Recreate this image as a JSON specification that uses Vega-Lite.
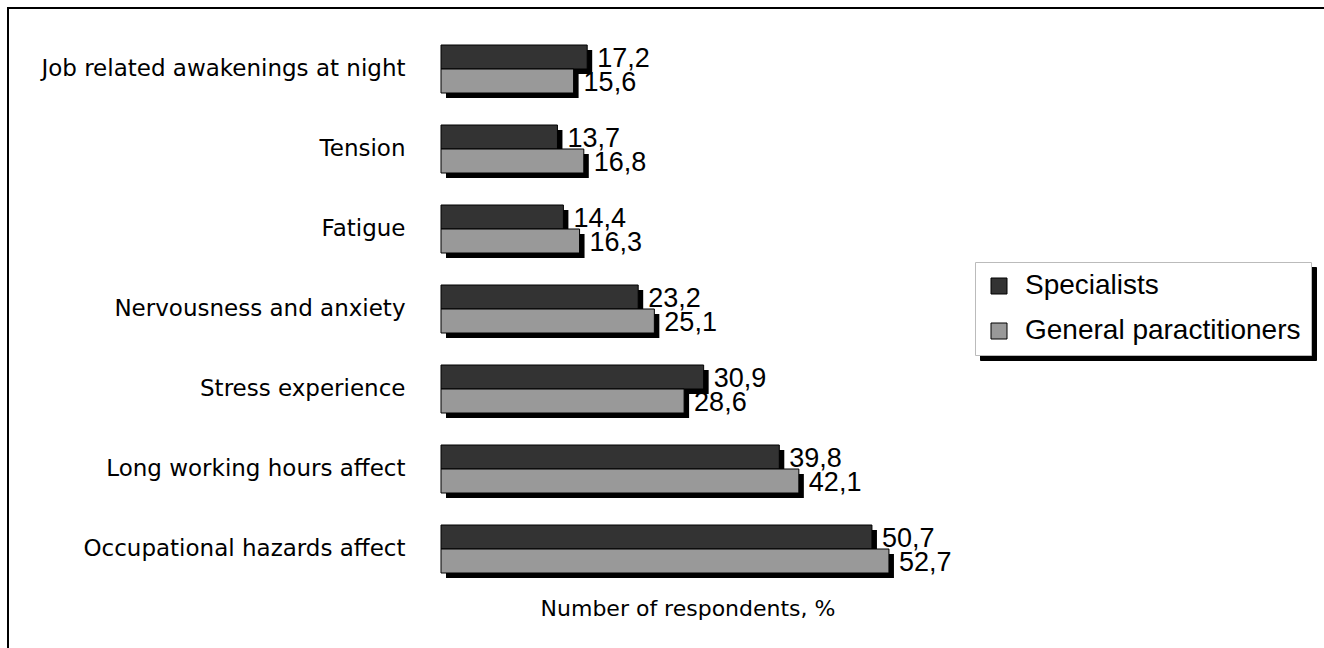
{
  "$schema": "https://vega.github.io/schema/vega-lite/v6.json",
  "autosize": {"type": "none"},
  "padding": {"left": 441, "top": 29, "right": 390, "bottom": 59},
  "width": 493,
  "height": 560,
  "background": "white",
  "config": {
    "view": {"stroke": null},
    "locale": {"number": {"decimal": ",", "thousands": " ", "grouping": [3], "currency": ["", ""]}}
  },
  "data": {
    "values": [
      {"category": "Job related awakenings at night", "series": "Specialists", "value": 17.2},
      {"category": "Job related awakenings at night", "series": "General paractitioners", "value": 15.6},
      {"category": "Tension", "series": "Specialists", "value": 13.7},
      {"category": "Tension", "series": "General paractitioners", "value": 16.8},
      {"category": "Fatigue", "series": "Specialists", "value": 14.4},
      {"category": "Fatigue", "series": "General paractitioners", "value": 16.3},
      {"category": "Nervousness and anxiety", "series": "Specialists", "value": 23.2},
      {"category": "Nervousness and anxiety", "series": "General paractitioners", "value": 25.1},
      {"category": "Stress experience", "series": "Specialists", "value": 30.9},
      {"category": "Stress experience", "series": "General paractitioners", "value": 28.6},
      {"category": "Long working hours affect", "series": "Specialists", "value": 39.8},
      {"category": "Long working hours affect", "series": "General paractitioners", "value": 42.1},
      {"category": "Occupational hazards affect", "series": "Specialists", "value": 50.7},
      {"category": "Occupational hazards affect", "series": "General paractitioners", "value": 52.7}
    ]
  },
  "encoding": {
    "yOffset": {
      "field": "series", "type": "nominal", "sort": ["Specialists", "General paractitioners"],
      "scale": {"paddingInner": 0, "paddingOuter": 0}
    },
    "x": {
      "field": "value", "type": "quantitative",
      "scale": {"domain": [0, 58], "nice": false, "zero": true},
      "axis": {"title": "Number of respondents, %", "labels": false, "ticks": false, "domain": false, "grid": false,
               "titlePadding": 9, "titleFont": "DejaVu Sans", "titleFontSize": 22, "titleFontWeight": "normal", "titleColor": "black"}
    }
  },
  "resolve": {"scale": {"y": "independent"}},
  "layer": [
    {
      "mark": {"type": "bar", "xOffset": 5, "strokeWidth": 0},
      "encoding": {
        "y": {"field": "category", "type": "nominal", "sort": null,
              "scale": {"paddingInner": 0.4, "paddingOuter": 0.2, "range": [5, 565]}, "axis": null},
        "fill": {
          "field": "series", "type": "nominal",
          "scale": {"domain": ["General paractitioners", "Specialists"], "range": ["black", "black"]},
          "legend": {
            "title": null, "orient": "none", "legendX": 539, "legendY": 238, "zindex": 0,
            "strokeColor": "black", "fillColor": "black", "padding": 10,
            "symbolType": "square", "symbolSize": 256, "symbolStrokeColor": "black", "symbolStrokeWidth": 1,
            "labelFont": "Liberation Sans", "labelFontSize": 28, "labelColor": "black",
            "labelOffset": 12, "rowPadding": 17, "labelLimit": 400
          }
        },
        "stroke": {
          "field": "value", "type": "quantitative",
          "scale": {"range": ["rgba(255,255,255,0)", "rgba(255,255,255,0)"]},
          "legend": {
            "title": null, "orient": "none", "legendX": -433, "legendY": -21, "zindex": 0,
            "direction": "vertical", "padding": 0,
            "gradientLength": 680, "gradientThickness": 1330,
            "gradientStrokeColor": "black", "gradientStrokeWidth": 2,
            "labelExpr": "''", "labelOpacity": 0, "labelFontSize": 1
          }
        }
      }
    },
    {
      "encoding": {
        "y": {
          "field": "category", "type": "nominal", "sort": null,
          "scale": {"paddingInner": 0.4, "paddingOuter": 0.2},
          "axis": {"title": null, "domain": false, "ticks": false, "labelPadding": 36,
                   "labelFont": "DejaVu Sans", "labelFontSize": 23, "labelColor": "black", "labelLimit": 500}
        }
      },
      "layer": [
        {
          "mark": {"type": "bar", "stroke": "black", "strokeWidth": 1},
          "encoding": {
            "color": {
              "field": "series", "type": "nominal",
              "scale": {"domain": ["Specialists", "General paractitioners"], "range": ["#333333", "#999999"]},
              "legend": {
                "title": null, "orient": "none", "legendX": 534, "legendY": 233, "zindex": 1,
                "strokeColor": "#bbbbbb", "fillColor": "white", "padding": 10,
                "symbolType": "square", "symbolSize": 256, "symbolStrokeColor": "black", "symbolStrokeWidth": 1,
                "labelFont": "Liberation Sans", "labelFontSize": 28, "labelColor": "black",
                "labelOffset": 12, "rowPadding": 17, "labelLimit": 400
              }
            }
          }
        },
        {
          "mark": {"type": "text", "align": "left", "baseline": "middle", "dx": 10, "dy": 2,
                   "font": "Liberation Sans", "fontSize": 27, "color": "black"},
          "encoding": {"text": {"field": "value", "type": "quantitative", "format": ".1f"}}
        }
      ]
    }
  ]
}
